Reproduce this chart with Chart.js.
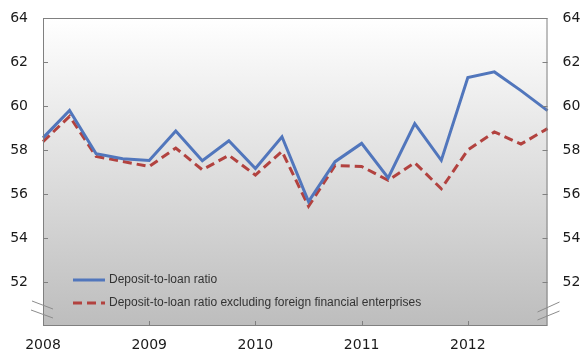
<!DOCTYPE html>
<html>
<head>
<meta charset="utf-8">
<script src="https://cdn.jsdelivr.net/npm/chart.js@4"></script>
<style>
  body { margin: 0; background: #fff; }
  #wrap { width: 581px; height: 353px; }
</style>
</head>
<body>
<div id="wrap"><canvas id="myChart" width="581" height="353"></canvas></div>
<script>
const quarters = ['2008Q1','2008Q2','2008Q3','2008Q4','2009Q1','2009Q2','2009Q3','2009Q4',
  '2010Q1','2010Q2','2010Q3','2010Q4','2011Q1','2011Q2','2011Q3','2011Q4',
  '2012Q1','2012Q2','2012Q3','2012Q4'];
const ratio = [58.55, 59.8, 57.83, 57.6, 57.52, 58.86, 57.51, 58.42, 57.16, 58.6,
  55.66, 57.47, 58.3, 56.73, 59.2, 57.53, 61.29, 61.55, 60.7, 59.79];
const ratioExForeign = [58.38, 59.53, 57.71, 57.48, 57.25, 58.09, 57.1, 57.76, 56.86, 57.94,
  55.44, 57.3, 57.25, 56.62, 57.42, 56.24, 58.0, 58.82, 58.27, 58.97];
const yTicks = [52, 54, 56, 58, 60, 62, 64];
const seriesNames = ['Deposit-to-loan ratio', 'Deposit-to-loan ratio excluding foreign financial enterprises'];

const tickFont = { family: 'DejaVu Sans', size: 14 };

// gradient background, frame, inner ticks, axis break marks, legend
const decor = {
  id: 'decor',
  beforeDatasetsDraw(chart) {
    const { ctx, chartArea: a } = chart;
    const g = ctx.createLinearGradient(0, a.top, 0, a.bottom);
    g.addColorStop(0, '#ffffff');
    g.addColorStop(1, '#bdbdbd');
    ctx.save();
    ctx.fillStyle = g;
    ctx.fillRect(a.left, a.top, a.right - a.left, a.bottom - a.top);
    ctx.restore();
  },
  afterDatasetsDraw(chart) {
    const { ctx, chartArea: a, scales } = chart;
    ctx.save();
    ctx.strokeStyle = '#808080';
    ctx.lineWidth = 1;
    ctx.strokeRect(a.left + 0.5, a.top + 0.5, a.right - a.left - 1, a.bottom - a.top - 1);
    ctx.beginPath();
    yTicks.forEach(v => {
      const y = Math.round(scales.y.getPixelForValue(v)) + 0.5;
      ctx.moveTo(a.left, y); ctx.lineTo(a.left + 5, y);
      ctx.moveTo(a.right - 5, y); ctx.lineTo(a.right, y);
    });
    quarters.forEach((q, i) => {
      if (i > 0 && q.endsWith('Q1')) {
        const x = Math.round(scales.x.getPixelForValue(i)) + 0.5;
        ctx.moveTo(x, a.bottom); ctx.lineTo(x, a.bottom - 5);
      }
    });
    ctx.stroke();
    // axis break marks
    ctx.strokeStyle = '#8c8c8c';
    ctx.beginPath();
    ctx.moveTo(a.left - 11, a.bottom - 25); ctx.lineTo(a.left + 10, a.bottom - 17);
    ctx.moveTo(a.left - 12, a.bottom - 16); ctx.lineTo(a.left + 10, a.bottom - 8);
    ctx.moveTo(a.right - 10, a.bottom - 14); ctx.lineTo(a.right + 12, a.bottom - 24);
    ctx.moveTo(a.right - 10, a.bottom - 6); ctx.lineTo(a.right + 12, a.bottom - 15);
    ctx.stroke();
    // legend
    ctx.font = '12px "Liberation Sans", Arial, sans-serif';
    ctx.textBaseline = 'middle';
    chart.data.datasets.forEach((ds, i) => {
      const y = a.top + 262 + i * 23;
      ctx.strokeStyle = ds.borderColor;
      ctx.lineWidth = 3;
      ctx.setLineDash(ds.borderDash || []);
      ctx.beginPath();
      ctx.moveTo(a.left + 30, y); ctx.lineTo(a.left + 62, y);
      ctx.stroke();
      ctx.setLineDash([]);
      ctx.fillStyle = '#333333';
      ctx.fillText(ds.label, a.left + 66, y);
    });
    ctx.restore();
  }
};

function noPad(s) {
  s.paddingTop = 0; s.paddingBottom = 0; s.paddingLeft = 0; s.paddingRight = 0;
}

const ctx = document.getElementById('myChart').getContext('2d');
const myChart = new Chart(ctx, {
  type: 'line',
  data: {
    labels: quarters,
    datasets: [{
      label: seriesNames[0],
      data: ratio,
      borderColor: '#5176bc',
      borderWidth: 3,
      pointRadius: 0,
      tension: 0,
      yAxisID: 'y'
    }, {
      label: seriesNames[1],
      data: ratioExForeign,
      borderColor: '#b2423f',
      borderWidth: 3,
      borderDash: [9, 5],
      pointRadius: 0,
      tension: 0,
      yAxisID: 'y'
    }]
  },
  options: {
    responsive: false,
    animation: false,
    layout: { padding: { top: 18, left: 0, right: 0, bottom: 0 } },
    plugins: { legend: { display: false }, tooltip: { enabled: false } },
    scales: {
      x: {
        offset: false,
        grid: { display: false, drawTicks: false },
        border: { display: false },
        afterFit(s) { s.height = 27; noPad(s); },
        ticks: {
          autoSkip: false,
          maxRotation: 0,
          padding: 11,
          color: '#1a1a1a',
          font: tickFont,
          callback(v, i) { return quarters[i].endsWith('Q1') ? quarters[i].slice(0, 4) : ''; }
        }
      },
      y: {
        position: 'left',
        min: 50, max: 64,
        grid: { display: false, drawTicks: false },
        border: { display: false },
        afterFit(s) { s.width = 43; noPad(s); },
        ticks: {
          stepSize: 2, padding: 15, color: '#1a1a1a', font: tickFont,
          callback(v) { return yTicks.includes(v) ? v : ''; }
        }
      },
      y2: {
        position: 'right',
        min: 50, max: 64,
        grid: { display: false, drawTicks: false },
        border: { display: false },
        afterFit(s) { s.width = 33.5; noPad(s); },
        ticks: {
          stepSize: 2, padding: 15, color: '#1a1a1a', font: tickFont,
          callback(v) { return yTicks.includes(v) ? v : ''; }
        }
      }
    }
  },
  plugins: [decor]
});
</script>
</body>
</html>
